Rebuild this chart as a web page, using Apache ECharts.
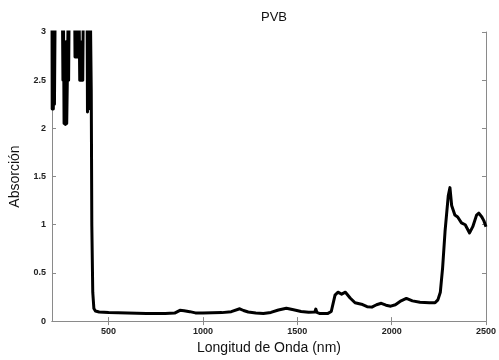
<!DOCTYPE html>
<html><head><meta charset="utf-8">
<script src="https://cdn.jsdelivr.net/npm/echarts@6/dist/echarts.min.js"></script>
<style>html,body{margin:0;padding:0;background:#fff}#c{width:499px;height:360px}</style>
</head><body><div id="c"></div>
<script>
const title = 'PVB';
const xName = 'Longitud de Onda (nm)';
const yName = 'Absorción';
const xTicks = [500, 1000, 1500, 2000, 2500];
const yTicks = [0, 0.5, 1, 1.5, 2, 2.5, 3];
const wavelength = [200,201,204,207,210,213,217,255,258,261,264,268,271,275,278,282,285,288,291,320,322,325,328,331,334,337,340,344,347,351,355,359,363,366,386,388,391,394,397,400,404,408,411,416,422,430,450,500,550,600,650,700,750,800,850,860,878,900,930,960,1000,1050,1100,1150,1195,1215,1240,1280,1320,1360,1400,1442,1480,1520,1560,1593,1598,1604,1620,1660,1680,1700,1715,1735,1755,1780,1806,1840,1870,1895,1920,1945,1970,1995,2020,2050,2078,2110,2150,2200,2230,2245,2258,2270,2283,2300,2309,2318,2335,2350,2370,2390,2413,2430,2450,2462,2478,2489,2500];
const absorbance = [3.3,2.2,3.0,2.2,2.6,2.25,3.3,3.3,2.5,3.1,2.05,2.9,2.04,2.9,2.05,2.6,3.1,2.5,3.3,3.3,2.74,3.1,2.74,3.1,2.74,3.1,2.74,3.1,2.5,2.9,2.5,2.9,2.5,3.3,3.3,2.17,3.1,2.2,3.1,2.5,3.1,2.4,1.0,0.3,0.13,0.105,0.095,0.088,0.086,0.084,0.082,0.08,0.079,0.08,0.083,0.095,0.112,0.108,0.098,0.085,0.083,0.086,0.088,0.098,0.128,0.11,0.095,0.085,0.078,0.09,0.115,0.134,0.118,0.1,0.092,0.095,0.125,0.09,0.078,0.078,0.1,0.27,0.3,0.28,0.3,0.24,0.19,0.175,0.15,0.145,0.17,0.185,0.165,0.155,0.17,0.21,0.235,0.21,0.195,0.19,0.19,0.22,0.3,0.55,0.93,1.3,1.385,1.2,1.1,1.08,1.02,1.0,0.915,0.98,1.1,1.12,1.08,1.04,0.98];

const data = wavelength.map((w, i) => [w, absorbance[i]]);
const frame = '#8a8a8a';
const font = 'Liberation Sans, Arial, sans-serif';
const chart = echarts.init(document.getElementById('c'), null, {renderer: 'canvas'});
chart.setOption({
  animation: false,
  backgroundColor: '#fff',
  title: {text: title, left: 269, top: 6, textAlign: 'center',
    textStyle: {fontFamily: font, fontSize: 13, fontWeight: 'normal', color: '#111'}},
  grid: {left: 50, right: 8, top: 32, bottom: 37, containLabel: false},
  xAxis: [{
    type: 'value', min: 200, max: 2500, position: 'bottom',
    name: xName, nameLocation: 'middle', nameGap: 17,
    nameTextStyle: {fontFamily: font, fontSize: 14, color: '#111'},
    axisLine: {show: true, lineStyle: {color: frame, width: 1}},
    axisTick: {show: true, inside: true, length: 4, customValues: xTicks, lineStyle: {color: frame}},
    axisLabel: {customValues: xTicks, fontFamily: font, fontSize: 9, fontWeight: 'bold', color: '#222', margin: 6,
      formatter: v => String(v)},
    splitLine: {show: false}
  }, {
    type: 'value', min: 200, max: 2500, position: 'top',
    axisLine: {show: true, lineStyle: {color: frame, width: 1}},
    axisTick: {show: true, inside: true, length: 4, customValues: xTicks, lineStyle: {color: frame}},
    axisLabel: {show: false}, splitLine: {show: false}
  }],
  yAxis: [{
    type: 'value', min: 0, max: 3, interval: 0.5, position: 'left',
    name: yName, nameLocation: 'middle', nameGap: 30, nameRotate: 90,
    nameTextStyle: {fontFamily: font, fontSize: 14, color: '#111'},
    axisLine: {show: true, lineStyle: {color: frame, width: 1}},
    axisTick: {show: true, inside: true, length: 4, lineStyle: {color: frame}},
    axisLabel: {fontFamily: font, fontSize: 9, fontWeight: 'bold', color: '#222', margin: 6,
      formatter: v => String(v)},
    splitLine: {show: false}
  }, {
    type: 'value', min: 0, max: 3, interval: 0.5, position: 'right',
    axisLine: {show: true, lineStyle: {color: frame, width: 1}},
    axisTick: {show: true, inside: true, length: 4, lineStyle: {color: frame}},
    axisLabel: {show: false}, splitLine: {show: false}
  }],
  series: [{
    type: 'line', xAxisIndex: 0, yAxisIndex: 0, data: data,
    showSymbol: false, symbol: 'none',
    lineStyle: {color: '#000', width: 3, join: 'round'},
    clip: true
  }]
});
</script></body></html>
